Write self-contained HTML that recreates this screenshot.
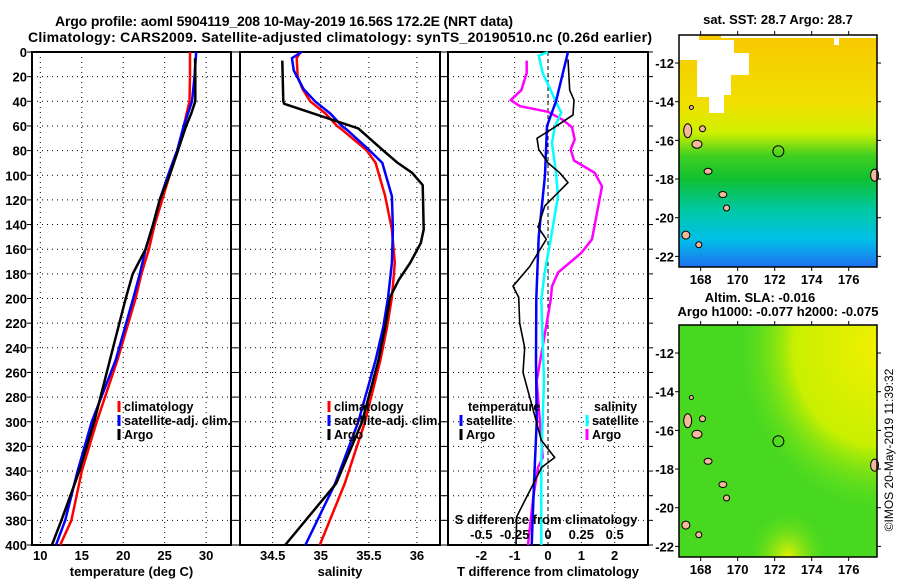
<!DOCTYPE html>
<html><head><meta charset="utf-8">
<style>
html,body{margin:0;padding:0;background:#fff;}
svg{display:block;font-family:"Liberation Sans",sans-serif;font-weight:bold;}
</style></head>
<body>
<svg id="c" width="900" height="580" viewBox="0 0 900 580" xmlns="http://www.w3.org/2000/svg">
<defs>
<linearGradient id="sstg" x1="0" y1="0" x2="0" y2="1">
<stop offset="0" stop-color="#f8c800"/><stop offset="0.3" stop-color="#f0e000"/>
<stop offset="0.42" stop-color="#d0f000"/><stop offset="0.52" stop-color="#40d020"/>
<stop offset="0.62" stop-color="#10c030"/><stop offset="0.75" stop-color="#00c8a0"/>
<stop offset="0.88" stop-color="#00c0e8"/><stop offset="1" stop-color="#2070f0"/>
</linearGradient>
<radialGradient id="slay" cx="1" cy="0.1" r="0.7"><stop offset="0" stop-color="#f0f000"/><stop offset="0.6" stop-color="#c8f000"/><stop offset="1" stop-color="#60e020" stop-opacity="0"/></radialGradient>
<radialGradient id="slay2" cx="0.55" cy="1" r="0.2"><stop offset="0" stop-color="#e8f000"/><stop offset="1" stop-color="#60e020" stop-opacity="0"/></radialGradient>
</defs>
<text x="284" y="26" font-size="14" text-anchor="middle" textLength="458">Argo profile: aoml 5904119_208 10-May-2019 16.56S 172.2E (NRT data)</text>
<text x="340" y="42" font-size="14" text-anchor="middle" textLength="624">Climatology: CARS2009. Satellite-adjusted climatology: synTS_20190510.nc (0.26d earlier)</text>
<g id="plots"></g>
<g id="maps"></g>
<text transform="translate(893,450) rotate(-90)" font-size="12" font-weight="normal" text-anchor="middle">©IMOS 20-May-2019 11:39:32</text>
</svg>
<script>
// ---- data ----
const argoTdepth=[5,20,40,50,60,80,100,120,140,160,180,200,250,300,340,380,400];
const argoT=[28.67,28.7,28.7,28.2,27.58,26.6,25.6,24.4,23.6,22.7,21.15,20.3,18.4,16.5,14.7,12.55,11.4];
const climTdepth=[0,20,40,60,80,100,120,140,160,180,200,250,300,340,380,400];
const climT=[28.06,28.06,28.0,27.3,26.6,25.6,24.7,23.8,23.1,22.2,21.5,19.3,16.8,15.0,13.75,12.4];
const satTdepth=[0,20,40,60,80,100,120,140,160,180,200,250,300,340,380,400];
const satT=[28.8,28.6,28.3,27.3,26.5,25.4,24.4,23.6,22.7,22.0,21.2,19.1,16.2,14.5,13.0,11.9];

const argoSdepth=[7,40,42,62,80,90,98,108,144,155,171,185,199,223,250,300,350,400];
const argoS=[34.6,34.61,34.62,35.39,35.65,35.8,35.95,36.06,36.07,36.04,35.93,35.81,35.72,35.67,35.6,35.43,35.16,34.63];
const climSdepth=[0,5,20,30,40,50,60,63,80,90,117,144,171,199,223,250,300,350,400];
const climS=[34.79,34.75,34.76,34.81,34.89,35.05,35.17,35.22,35.48,35.57,35.67,35.74,35.77,35.74,35.69,35.62,35.46,35.25,34.99];
const satSdepth=[0,5,15,30,40,50,60,63,80,90,117,144,171,199,223,250,300,350,400];
const satS=[34.8,34.7,34.72,34.82,34.94,35.1,35.22,35.27,35.51,35.64,35.74,35.75,35.74,35.7,35.65,35.57,35.39,35.15,34.84];

const dTsatDepth=[0,40,60,100,150,200,250,300,350,400];
const dTsat=[0.6,0.24,-0.03,-0.09,-0.28,-0.35,-0.36,-0.34,-0.42,-0.49];
const dTargoDepth=[6,31,39,51,61,70,79,90,98,106,125,142,152,174,190,199,220,240,260,275,295,315,329,337,361,377,400];
const dTargo=[0.6,0.65,0.78,0.75,0.2,-0.33,-0.28,0,0.35,0.6,-0.1,-0.3,-0.05,-0.55,-1.05,-0.88,-0.85,-0.7,-0.75,-0.6,-0.4,-0.2,0.2,-0.19,-0.64,-0.94,-0.96];
const dSsatDepth=[0,3,17,44,49,61,74,98,117,152,179,201,267,330,400];
const dSsat=[0,-0.07,-0.04,0.075,0.1,0.05,0.03,0.06,0.075,0.02,-0.025,-0.05,-0.03,-0.05,-0.05];
const dSargoDepth=[7,17,31,39,44,48.5,55,61,71,79,88,98,109,152,163,179,190,201,267,329,337,361,400];
const dSargo=[-0.16,-0.16,-0.2,-0.28,-0.21,0,0.11,0.18,0.2,0.17,0.195,0.35,0.405,0.33,0.25,0.075,0.03,0.02,-0.085,-0.04,-0.075,-0.11,-0.15];

const depthTicks=[0,20,40,60,80,100,120,140,160,180,200,220,240,260,280,300,320,340,360,380,400];
const tTicks=[10,15,20,25,30];
const sTicks=[34.5,35,35.5,36];
const sTickLabels=["34.5","35","35.5","36"];
const dTTicks=[-2,-1,0,1,2];
const dSTicks=[-0.5,-0.25,0,0.25,0.5];
const dSTickLabels=["-0.5","-0.25","0","0.25","0.5"];
const lonTicks=[168,170,172,174,176];
const latTicks=[-12,-14,-16,-18,-20,-22];
const argoLon=172.2, argoLat=-16.56;

// ---- helpers ----
const NS="http://www.w3.org/2000/svg";
function mk(tag,attrs,parent){const e=document.createElementNS(NS,tag);for(const k in attrs)e.setAttribute(k,attrs[k]);(parent||document.getElementById('plots')).appendChild(e);return e;}
const top0=52,bot0=545;
function yD(d){return top0+(d/400)*(bot0-top0);}
function lin(d0,d1,r0,r1){return v=>r0+(v-d0)/(d1-d0)*(r1-r0);}

function panel(name,x0,x1,xs,ticks,labels,xlabel,showDepthLabels){
  const g=mk('g',{});
  
  
  depthTicks.forEach(d=>{
    if(d>0&&d<400){const l=mk('line',{x1:x0,x2:x1,y1:yD(d),y2:yD(d),stroke:'#000','stroke-width':1,'stroke-dasharray':'1,4'},g);
    }
    const t=mk('line',{x1:x0-5,x2:x0,y1:yD(d),y2:yD(d),stroke:'#000'},g);
    
    const t2=mk('line',{x1:x1,x2:x1+5,y1:yD(d),y2:yD(d),stroke:'#000'},g);
    
    if(showDepthLabels){const tx=mk('text',{x:27,y:yD(d)+5,'font-size':13,'text-anchor':'end'},g);tx.textContent=d;
      }
  });
  ticks.forEach((v,i)=>{
    const l=mk('line',{x1:xs(v),x2:xs(v),y1:top0,y2:bot0,stroke:'#000','stroke-dasharray':v===0&&name==='diff-panel'?'4,3':'1,4'},g);
    
    const tx=mk('text',{x:xs(v),y:560,'font-size':13,'text-anchor':'middle'},g);tx.textContent=labels[i];
    
  });
  const r=mk('rect',{x:x0,y:top0,width:x1-x0,height:bot0-top0,fill:'none',stroke:'#000','stroke-width':2},g);
  
  const xl=mk('text',{x:(x0+x1)/2,y:576,'font-size':13,'text-anchor':'middle'},g);xl.textContent=xlabel;
  
  return g;
}
function series(g,name,depths,vals,xs,color,w){
  const p=depths.map((d,i)=>(i?'L':'M')+xs(vals[i]).toFixed(1)+','+yD(d).toFixed(1)).join('');
  const e=mk('path',{d:p,fill:'none',stroke:color,'stroke-width':w,'stroke-linejoin':'round'},g);
  
  
}
function legend(g,name,x,y,color,label,len){
  const m=mk('line',{x1:x,x2:x,y1:y-10,y2:y+1,stroke:color,'stroke-width':3},g);
  
  if(label){const a={x:x+5,y:y,'font-size':12.5};if(len){a.textLength=len;a.lengthAdjust='spacingAndGlyphs';}
  const t=mk('text',a,g);t.textContent=label;
  }
}

// panel 1
const xT=lin(9,33,32,231);
const g1=panel('temperature-panel',32,231,xT,tTicks,tTicks.map(String),'temperature (deg C)',true);
series(g1,'temp-climatology-line',climTdepth,climT,xT,'#f00',2.5);
series(g1,'temp-satellite-line',satTdepth,satT,xT,'#00f',2.5);
series(g1,'temp-argo-line',argoTdepth,argoT,xT,'#000',2.5);
legend(g1,'legend-climatology',119,411,'#f00','climatology');
legend(g1,'legend-satellite-adj',119,425,'#00f','satellite-adj. clim.',107);
legend(g1,'legend-argo',119,439,'#000','Argo');

// panel 2
const xS=lin(34.16,36.24,240,440);
const g2=panel('salinity-panel',240,440,xS,sTicks,sTickLabels,'salinity',false);
series(g2,'sal-climatology-line',climSdepth,climS,xS,'#f00',2.5);
series(g2,'sal-satellite-line',satSdepth,satS,xS,'#00f',2.5);
series(g2,'sal-argo-line',argoSdepth,argoS,xS,'#000',2.5);
legend(g2,'legend-climatology',329,411,'#f00','climatology');
legend(g2,'legend-satellite-adj',329,425,'#00f','satellite-adj. clim.',107);
legend(g2,'legend-argo',329,439,'#000','Argo');

// panel 3
const xdT=lin(-3,3,448,648);
const xdS=lin(-0.75,0.75,448,648);
const g3=panel('diff-panel',448,648,xdT,dTTicks,dTTicks.map(String),'T difference from climatology',false);
series(g3,'dS-argo-line',dSargoDepth,dSargo,xdS,'#f0f',2.5);
series(g3,'dS-satellite-line',dSsatDepth,dSsat,xdS,'#0ff',2.5);
series(g3,'dT-satellite-line',dTsatDepth,dTsat,xdT,'#00f',2.5);
series(g3,'dT-argo-line',dTargoDepth,dTargo,xdT,'#000',1.6);
(function(){const t=mk('text',{x:468,y:411,'font-size':12.5},g3);t.textContent='temperature';
const s=mk('text',{x:594,y:411,'font-size':12.5},g3);s.textContent='salinity';})();
legend(g3,'legend-temp-satellite',461,425,'#00f','satellite');
legend(g3,'legend-temp-argo',461,439,'#000','Argo');
legend(g3,'legend-sal-satellite',587,425,'#0ff','satellite');
legend(g3,'legend-sal-argo',587,439,'#f0f','Argo');
(function(){const t=mk('text',{x:546,y:524,'font-size':13,'text-anchor':'middle'},g3);t.textContent='S difference from climatology';
dSTicks.forEach((v,i)=>{const e=mk('text',{x:xdS(v),y:539,'font-size':13,'text-anchor':'middle'},g3);e.textContent=dSTickLabels[i];});})();

// maps
function map(name,y0,y1,fill,title1,title2,titleY){
  const gm=document.getElementById('maps');
  const g=mk('g',{},gm);
  
  const x0=679,x1=877;
  const xl=lin(166.83,177.53,x0,x1);
  const latTop=-10.55,latBot=-22.55;
  const yl=lin(latTop,latBot,y0,y1);
  fill(g,x0,y0,x1,y1);
  [[167.3,-15.5,4,7],[167.8,-16.2,5,4],[168.4,-17.6,4,3],[169.2,-18.8,4,3],[169.4,-19.5,3,3],[167.2,-20.9,4,4],[167.9,-21.4,3,3],[177.4,-17.8,4,6],[168.1,-15.4,3,3],[167.5,-14.3,2,2]].forEach(a=>{
    const e=mk('ellipse',{cx:xl(a[0]),cy:yl(a[1]),rx:a[2],ry:a[3],fill:'#f6b89a',stroke:'#000','stroke-width':1},g);
    });
  const c=mk('circle',{cx:xl(argoLon),cy:yl(argoLat),r:5.5,fill:'none',stroke:'#000','stroke-width':1},g);
  
  const r=mk('rect',{x:x0,y:y0,width:x1-x0,height:y1-y0,fill:'none',stroke:'#000','stroke-width':1.5},g);
  
  latTicks.forEach(v=>{
    const t=mk('line',{x1:x0-4,x2:x0,y1:yl(v),y2:yl(v),stroke:'#000'},g);
    const t2=mk('line',{x1:x1,x2:x1+4,y1:yl(v),y2:yl(v),stroke:'#000'},g);
    const tx=mk('text',{x:674,y:yl(v)+5,'font-size':13,'text-anchor':'end'},g);tx.textContent=v;
    });
  lonTicks.forEach(v=>{
    const t=mk('line',{x1:xl(v),x2:xl(v),y1:y0-4,y2:y0,stroke:'#000'},g);
    const t2=mk('line',{x1:xl(v),x2:xl(v),y1:y1,y2:y1+4,stroke:'#000'},g);
    const tx=mk('text',{x:xl(v),y:y1+17,'font-size':13,'text-anchor':'middle'},g);tx.textContent=v;
    });
  titleY.forEach((ty,i)=>{const tx=mk('text',{x:i===0&&title2?760:778,y:ty,'font-size':13,'text-anchor':'middle'},g);tx.textContent=i===0?title1:title2;
    });
}
map('sst-map',35,267,(g,x0,y0,x1,y1)=>{
  const b=mk('rect',{x:x0,y:y0,width:x1-x0,height:y1-y0,fill:'url(#sstg)'},g);
  const w=mk('path',{d:`M${x0},${y0}H${x0+20}V${y0+5}H${x0+55}V${y0+18}H${x0+70}V${y0+40}H${x0+52}V${y0+60}H${x0+45}V${y0+78}H${x0+30}V${y0+62}H${x0+18}V${y0+25}H${x0}Z`,fill:'#fff'},g);
  
  const w2=mk('path',{d:`M${x0+42},${y0}H${x1}V${y0+3}H${x0+160}V${y0+10}H${x0+155}V${y0+3}H${x0+42}Z`,fill:'#fff'},g);
  
},'sat. SST: 28.7 Argo: 28.7',null,[24]);
map('sla-map',325,557,(g,x0,y0,x1,y1)=>{
  const b=mk('rect',{x:x0,y:y0,width:x1-x0,height:y1-y0,fill:'#48d820'},g);
  const o=mk('rect',{x:x0,y:y0,width:x1-x0,height:y1-y0,fill:'url(#slay)'},g);
  const o2=mk('rect',{x:x0,y:y0,width:x1-x0,height:y1-y0,fill:'url(#slay2)'},g);
},'Altim. SLA: -0.016','Argo h1000: -0.077 h2000: -0.075',[302,316]);
</script>
</body></html>
